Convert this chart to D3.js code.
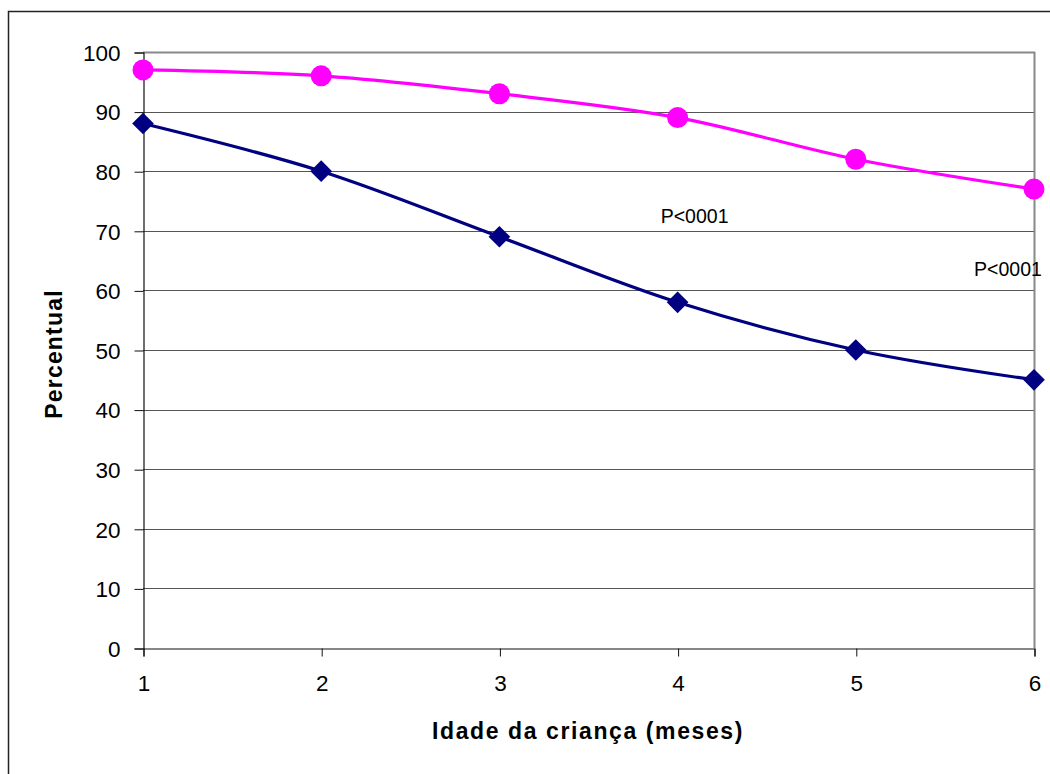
<!DOCTYPE html>
<html>
<head>
<meta charset="utf-8">
<script src="https://d3js.org/d3.v7.min.js"></script>
<style>
    body { margin: 0; background: #fff; }
    text { font-family: "Liberation Sans", Arial, sans-serif; fill: #000; }
    .grid line { stroke: #555; stroke-width: 1; }
</style>
</head>
<body>
<svg id="plot"></svg>
<script>
    var months = [1, 2, 3, 4, 5, 6];
    var pinkValues = [97, 96, 93, 89, 82, 77];
    var navyValues = [88, 80, 69, 58, 50, 45];
    var yTicks = [0, 10, 20, 30, 40, 50, 60, 70, 80, 90, 100];
    var notes = [
        { x: 4, y: 71.3, text: "P<0001" },
        { x: 6, y: 62.4, text: "P<0001" }
    ];

    var W = 1050, H = 774;
    var Plot = { left: 143, right: 1034, top: 52, bottom: 648 };

    var svg = d3.select("#plot").attr("width", W).attr("height", H);

    // outer frame
    svg.append("rect")
        .attr("x", 8.5).attr("y", 11.5)
        .attr("width", W).attr("height", H)
        .attr("fill", "none").attr("stroke", "#222").attr("stroke-width", 1.5);

    var x = d3.scaleLinear().domain([1, 6]).range([Plot.left, Plot.right]);
    var y = d3.scaleLinear().domain([0, 100]).range([Plot.bottom, Plot.top]);

    // gridlines
    svg.append("g").attr("class", "grid")
        .selectAll("line")
        .data(yTicks.filter(d => d > 0))
        .enter().append("line")
            .attr("x1", Plot.left).attr("x2", Plot.right)
            .attr("y1", d => Math.round(y(d)) + 0.5)
            .attr("y2", d => Math.round(y(d)) + 0.5);

    // plot area border (gray)
    svg.append("line")
        .attr("x1", Plot.right + 0.5).attr("x2", Plot.right + 0.5)
        .attr("y1", Plot.top).attr("y2", Plot.bottom)
        .attr("stroke", "#888").attr("stroke-width", 2);
    svg.append("line")
        .attr("x1", Plot.left).attr("x2", Plot.right + 1)
        .attr("y1", Plot.top + 0.5).attr("y2", Plot.top + 0.5)
        .attr("stroke", "#888").attr("stroke-width", 2);

    // axes
    var yAxis = d3.axisLeft(y).tickValues(yTicks).tickSize(9).tickPadding(14);
    var gy = svg.append("g").attr("transform", "translate(" + (Plot.left + 0.5) + ",0.5)").call(yAxis);
    var xAxis = d3.axisBottom(x).tickValues(months).tickFormat(d3.format("d")).tickSize(8).tickPadding(19);
    var gx = svg.append("g").attr("transform", "translate(0.5," + (Plot.bottom + 0.5) + ")").call(xAxis);
    [gy, gx].forEach(function(g) {
        g.select(".domain").attr("stroke", "#111").attr("stroke-width", 1.2);
        g.selectAll(".tick line").attr("stroke", "#111");
        g.selectAll("text").style("font-size", "22.5px").attr("fill", "#000")
            .style("font-family", "'Liberation Sans', Arial, sans-serif");
    });
    gy.selectAll("text").attr("dy", "0.35em");

    // axis titles
    svg.append("text")
        .attr("x", 588).attr("y", 739)
        .attr("text-anchor", "middle")
        .style("font-size", "23px").style("font-weight", "bold")
        .style("letter-spacing", "1.6px")
        .text("Idade da criança (meses)");
    svg.append("text")
        .attr("transform", "translate(62,354) rotate(-90)")
        .attr("text-anchor", "middle")
        .style("font-size", "23px").style("font-weight", "bold")
        .style("letter-spacing", "1.2px")
        .text("Percentual");

    var line = d3.line()
        .x((d, i) => x(months[i]))
        .y(d => y(d))
        .curve(d3.curveCatmullRom.alpha(0.5));

    // navy series
    svg.append("path").datum(navyValues)
        .attr("d", line).attr("fill", "none")
        .attr("stroke", "#000080").attr("stroke-width", 3.2);
    svg.append("g").selectAll("path")
        .data(navyValues)
        .enter().append("path")
            .attr("d", d3.symbol().type(d3.symbolDiamond2).size(300))
            .attr("transform", (d, i) => "translate(" + x(months[i]) + "," + y(d) + ")")
            .attr("fill", "#000080");

    // pink series
    svg.append("path").datum(pinkValues)
        .attr("d", line).attr("fill", "none")
        .attr("stroke", "#FF00FF").attr("stroke-width", 3.2);
    svg.append("g").selectAll("circle")
        .data(pinkValues)
        .enter().append("circle")
            .attr("cx", (d, i) => x(months[i]))
            .attr("cy", d => y(d))
            .attr("r", 10.5)
            .attr("fill", "#FF00FF");

    // annotations
    svg.append("g").selectAll("text")
        .data(notes)
        .enter().append("text")
            .attr("x", (d, i) => x(d.x) + (i === 0 ? 17 : -26))
            .attr("y", d => y(d.y))
            .attr("text-anchor", "middle")
            .style("font-size", "19.5px")
            .text(d => d.text);
</script>
</body>
</html>
